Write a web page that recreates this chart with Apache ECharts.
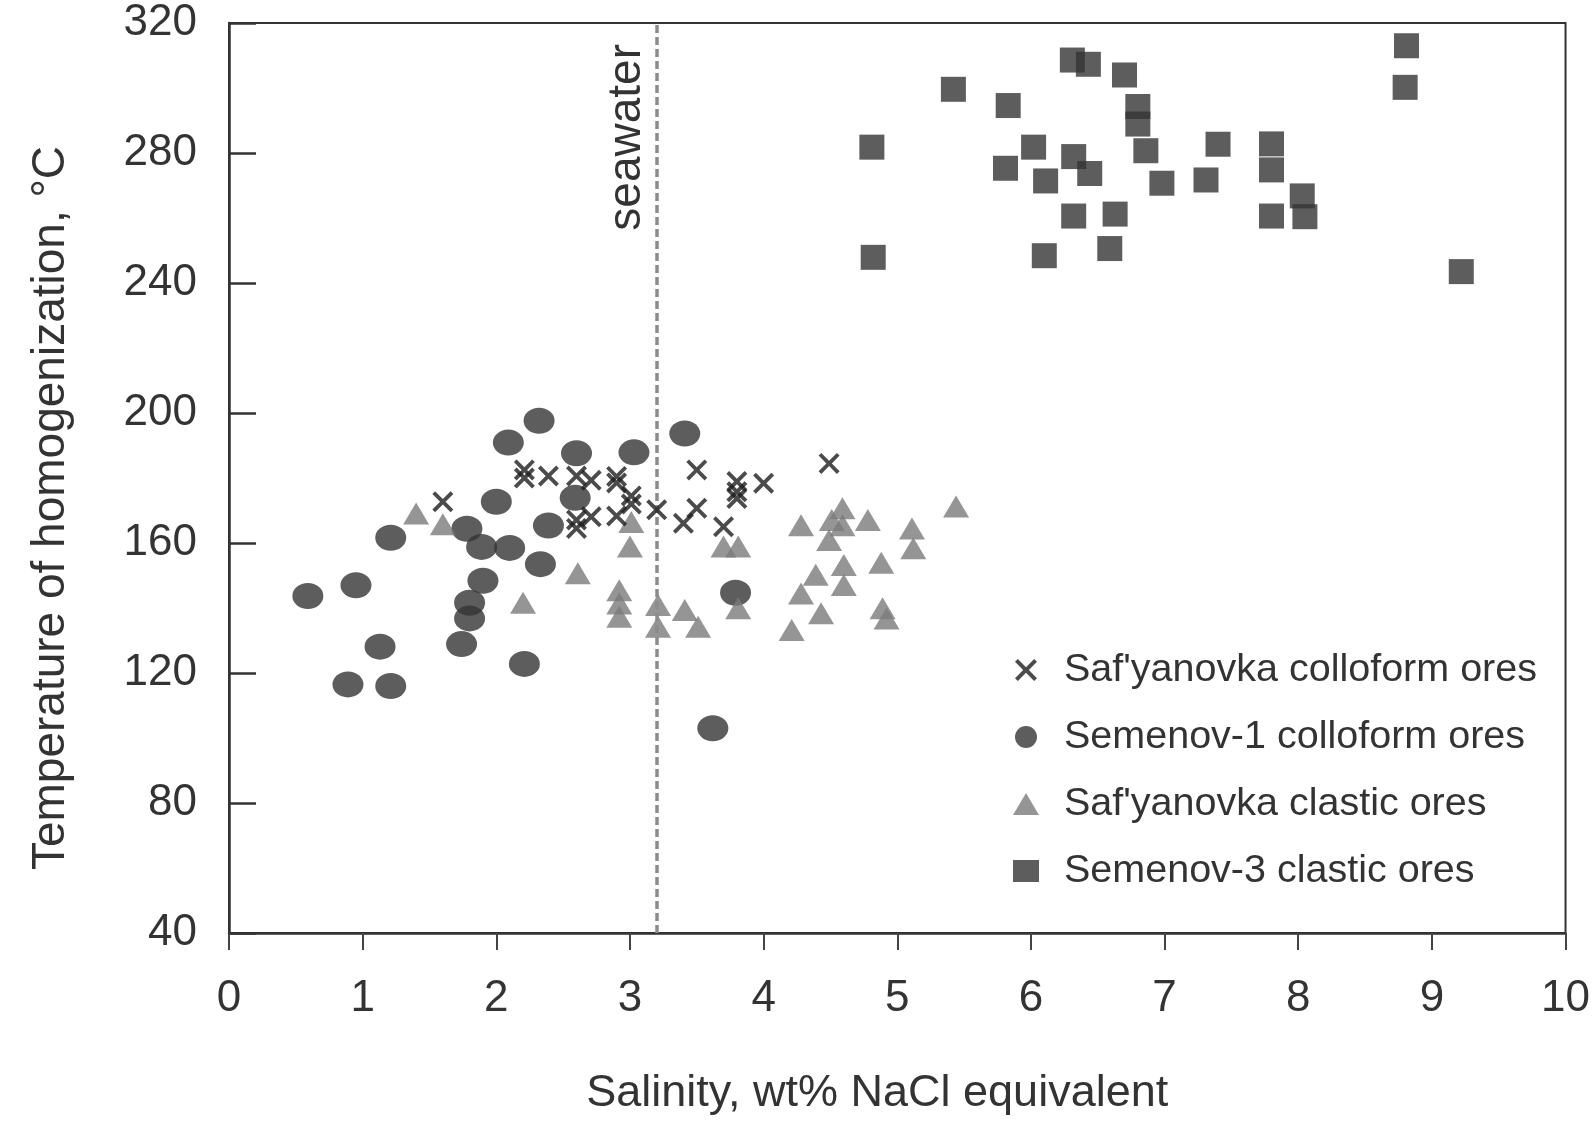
<!DOCTYPE html>
<html>
<head>
<meta charset="utf-8">
<title>Salinity vs homogenization temperature</title>
<script src="https://cdn.jsdelivr.net/npm/echarts@6/dist/echarts.min.js"></script>
<style>
    html, body { margin: 0; padding: 0; background: #fff; }
    #chart { width: 1593px; height: 1122px; }
</style>
</head>
<body>
<div id="chart"></div>
<script>
// values: [salinity wt%, temperature °C]
let safColloform = [[1.60, 172.7], [2.21, 182.5], [2.21, 180.0], [2.39, 180.6], [2.60, 180.6], [2.71, 179.3],
    [2.90, 180.5], [2.90, 178.5], [3.01, 174.5], [3.01, 172.0], [3.20, 170.2], [2.60, 167.1], [2.60, 164.5],
    [2.71, 168.1], [2.90, 168.3], [3.40, 166.1], [3.50, 170.7], [3.50, 182.5], [3.70, 165.0], [3.80, 178.9],
    [3.80, 175.8], [3.80, 173.7], [4.00, 178.4], [4.49, 184.5]];
let sem1Colloform = [[2.32, 197.6], [2.09, 190.9], [2.60, 187.6], [3.03, 187.9], [2.59, 173.9], [2.00, 172.7],
    [2.39, 165.4], [1.78, 164.4], [1.21, 161.6], [1.89, 158.8], [2.10, 158.5], [2.33, 153.5], [1.90, 148.4],
    [0.95, 147.0], [0.59, 143.7], [1.80, 141.6], [1.80, 136.8], [1.13, 128.1], [1.74, 128.9], [2.21, 122.8],
    [0.89, 116.5], [1.21, 116.0], [3.41, 193.7], [3.79, 144.7], [3.62, 103.0]];
let safClastic = [[1.40, 169.1], [1.60, 165.8], [3.01, 166.5], [3.00, 158.9], [2.61, 150.7], [2.20, 141.6],
    [2.92, 145.5], [2.92, 141.4], [2.92, 137.3], [3.21, 140.9], [3.21, 134.2], [3.41, 139.4], [3.51, 134.2],
    [3.81, 139.9], [3.70, 158.9], [3.81, 158.9], [4.28, 165.5], [4.59, 170.7], [4.51, 167.1], [4.59, 165.5],
    [4.49, 160.9], [4.78, 167.1], [5.11, 164.5], [5.12, 158.4], [5.44, 171.2], [4.39, 150.2], [4.60, 153.2],
    [4.60, 147.1], [4.88, 153.9], [4.28, 144.5], [4.43, 138.4], [4.21, 133.2], [4.89, 139.9], [4.92, 136.8]];
let sem3Clastic = [[6.31, 308.6], [6.43, 307.3], [6.70, 304.0], [5.42, 299.6], [5.83, 294.6], [6.80, 294.3],
    [6.80, 288.9], [4.81, 281.8], [6.02, 281.8], [6.86, 280.7], [7.40, 282.7], [7.80, 282.8], [7.80, 274.8],
    [5.81, 275.3], [6.32, 278.9], [6.44, 273.7], [6.11, 271.4], [6.98, 270.7], [7.31, 271.7], [8.03, 266.8],
    [7.80, 260.6], [8.05, 260.4], [6.32, 260.6], [6.63, 261.2], [6.59, 250.6], [6.10, 248.4], [4.82, 247.9],
    [8.81, 313.0], [8.80, 300.2], [9.22, 243.5]];
let seawaterSalinity = 3.2;
let seriesNames = ['Saf\'yanovka colloform ores', 'Semenov-1 colloform ores',
    'Saf\'yanovka clastic ores', 'Semenov-3 clastic ores'];

let fontFamily = '"Liberation Sans", Arial, Helvetica, sans-serif';
let textColor = '#333';
let crossPath = 'path://M0,1.3L1.3,0L5,3.7L8.7,0L10,1.3L6.3,5L10,8.7L8.7,10L5,6.3L1.3,10L0,8.7L3.7,5Z';

let chart = echarts.init(document.getElementById('chart'));
let option = {
    backgroundColor: '#fff',
    animation: false,
    textStyle: { fontFamily: fontFamily },
    grid: {
        left: 229,
        right: 23,
        top: 23,
        bottom: 189,
        show: true,
        borderColor: '#333',
        borderWidth: 2
    },
    legend: {
        orient: 'vertical',
        left: 1008,
        top: 645,
        itemWidth: 26,
        itemHeight: 22,
        itemGap: 27,
        textStyle: {
            fontFamily: fontFamily,
            fontSize: 39.5,
            color: textColor,
            padding: [0, 0, 0, 20]
        },
        data: seriesNames
    },
    xAxis: {
        type: 'value',
        min: 0,
        max: 10,
        interval: 1,
        name: 'Salinity, wt% NaCl equivalent',
        nameLocation: 'middle',
        nameGap: 138,
        nameTextStyle: { fontSize: 45, color: textColor, fontFamily: fontFamily, padding: [0, 40, 0, 0] },
        axisLine: { lineStyle: { color: '#333', width: 2.5 } },
        axisTick: { inside: false, length: 17, lineStyle: { color: '#444', width: 2 } },
        axisLabel: { fontSize: 44, color: textColor, margin: 44, fontFamily: fontFamily },
        splitLine: { show: false }
    },
    yAxis: {
        type: 'value',
        min: 40,
        max: 320,
        interval: 40,
        name: 'Temperature of homogenization, °C',
        nameLocation: 'middle',
        nameGap: 155,
        nameTextStyle: { fontSize: 46, color: textColor, fontFamily: fontFamily, padding: [0, 60, 0, 0] },
        axisLine: { lineStyle: { color: '#333', width: 2.5 } },
        axisTick: { inside: true, length: 27, lineStyle: { color: '#333', width: 2.5 } },
        axisLabel: { fontSize: 44, color: textColor, margin: 32, fontFamily: fontFamily },
        splitLine: { show: false }
    },
    series: [
        {
            name: seriesNames[0],
            type: 'scatter',
            z: 5,
            symbol: crossPath,
            symbolSize: 21,
            itemStyle: { color: '#1e1e1e' },
            data: safColloform,
            markLine: {
                silent: true,
                symbol: 'none',
                lineStyle: { type: [8, 4], color: '#8c8c8c', width: 3.5 },
                label: {
                    show: true,
                    position: 'insideEndTop',
                    formatter: 'seawater',
                    fontSize: 46,
                    color: textColor,
                    fontFamily: fontFamily,
                    distance: [21, 6]
                },
                data: [{ xAxis: seawaterSalinity }]
            }
        },
        {
            name: seriesNames[1],
            type: 'scatter',
            z: 2,
            symbol: 'circle',
            symbolSize: [31, 26],
            itemStyle: { color: '#353535' },
            data: sem1Colloform
        },
        {
            name: seriesNames[2],
            type: 'scatter',
            z: 3,
            symbol: 'triangle',
            symbolSize: [26, 22],
            itemStyle: { color: '#7a7a7a' },
            data: safClastic
        },
        {
            name: seriesNames[3],
            type: 'scatter',
            z: 4,
            symbol: 'rect',
            symbolSize: 25,
            itemStyle: { color: '#353535' },
            data: sem3Clastic
        }
    ]
};
chart.setOption(option);
</script>
</body>
</html>
